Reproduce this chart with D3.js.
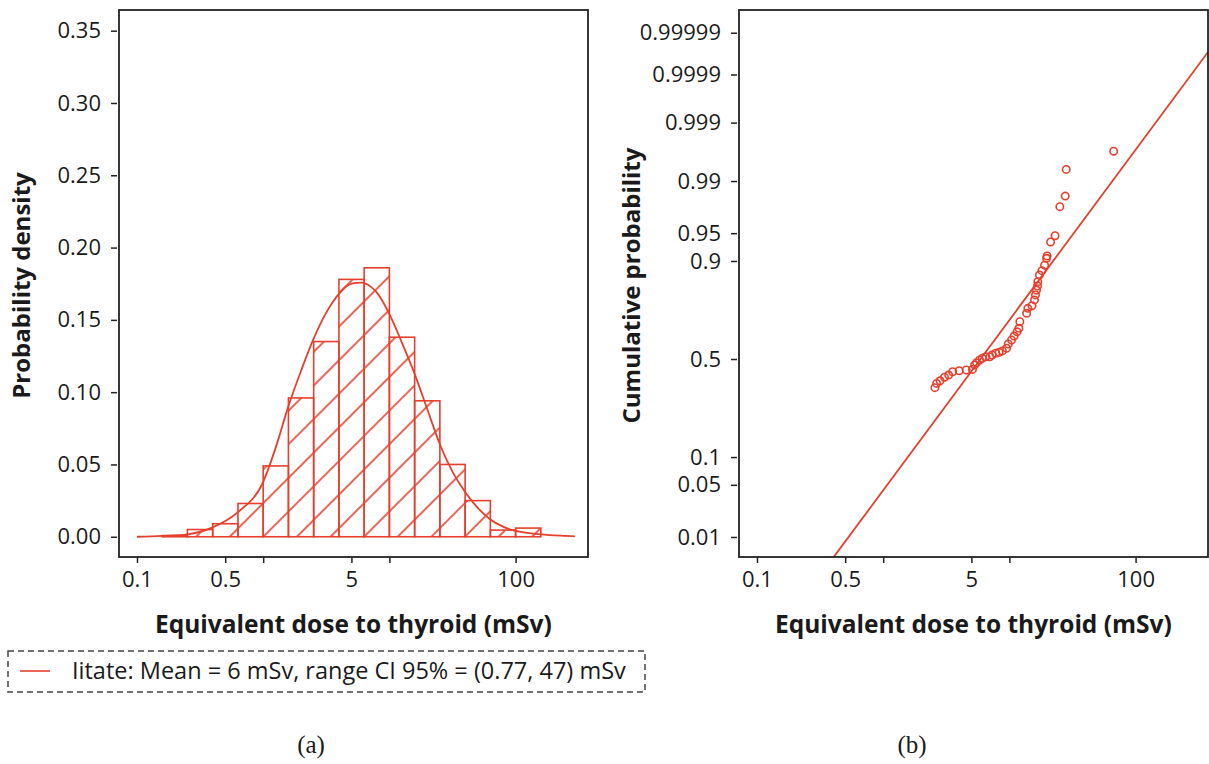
<!DOCTYPE html>
<meta charset="utf-8">
<style>
  body { margin: 0; background: white; }
  text { font-family: "Open Sans", sans-serif; fill: #1a1a1a; }
  .tick text { font-size: 22px; }
  .tick line { stroke: #222; stroke-width: 1.5; }
</style>
<body>
<svg id="chart" width="1209" height="764"></svg>

<script src="https://d3js.org/d3.v7.min.js"></script>
<script>
// ---- panel (a): histogram of log-binned doses (bin edges in mSv) ----
const binEdges = [0.158, 0.251, 0.398, 0.631, 1, 1.585, 2.512, 3.981, 6.31, 10, 15.85, 25.12, 39.81, 63.1, 100, 158.5];
const binDensity = [0.0008, 0.005, 0.009, 0.023, 0.049, 0.096, 0.135, 0.178, 0.186, 0.138, 0.094, 0.050, 0.025, 0.0046, 0.006];

// fitted density curve
const curveDose = [0.1, 0.158, 0.251, 0.398, 0.631, 1, 1.26, 1.58, 2.0, 2.51, 3.16, 3.98, 5.01, 6.0, 7.1, 7.94, 10, 12.6, 15.8, 20, 25.1, 31.6, 39.8, 50.1, 63.1, 79.4, 100, 158, 251, 295];
const curveDensity = [0, 0.0006, 0.0017, 0.0065, 0.017, 0.038, 0.062, 0.090, 0.115, 0.137, 0.155, 0.168, 0.175, 0.1757, 0.173, 0.169, 0.154, 0.134, 0.113, 0.088, 0.064, 0.045, 0.031, 0.020, 0.012, 0.007, 0.004, 0.0017, 0.0006, 0.0003];

// ---- panel (b): empirical cumulative probability points ----
const pointDose = [2.57, 2.65, 2.82, 3.06, 3.3, 3.55, 4.0, 4.55, 5.1, 5.3, 5.5, 5.8, 6.1, 6.5, 7.0, 7.3, 7.8, 8.3, 8.8, 9.5,
  9.8, 10.4, 10.9, 11.5, 11.9, 12.1, 13.7, 14.0, 15.1, 15.8, 16.1, 16.4, 16.7, 16.8, 17.3, 18.1, 19.0, 19.7, 19.9, 21.2,
  23.0, 25.1, 27.7, 28.2, 67.0];
const pointProb = [0.354, 0.375, 0.388, 0.406, 0.417, 0.434, 0.439, 0.443, 0.446, 0.469, 0.481, 0.495, 0.504, 0.512, 0.512, 0.521, 0.530, 0.535, 0.542, 0.556,
  0.578, 0.598, 0.618, 0.639, 0.656, 0.687, 0.725, 0.746, 0.757, 0.780, 0.799, 0.816, 0.830, 0.844, 0.864, 0.876, 0.890, 0.906, 0.911, 0.937,
  0.9465, 0.9768, 0.9834, 0.9934, 0.9967];
// lognormal fit line (end points)
const fitDose = [0.405, 375];
const fitProb = [0.0048, 0.99997];

// ---- axes ----
const doseTicks = [0.1, 0.5, 1, 5, 10, 100];
const doseTickLabels = ["0.1", "0.5", "", "5", "", "100"];
const densityTicks = [0, 0.05, 0.10, 0.15, 0.20, 0.25, 0.30, 0.35];
const probTicks = [0.01, 0.05, 0.1, 0.5, 0.9, 0.95, 0.99, 0.999, 0.9999, 0.99999];
const probTickLabels = ["0.01", "0.05", "0.1", "0.5", "0.9", "0.95", "0.99", "0.999", "0.9999", "0.99999"];

const legendText = "Iitate: Mean = 6 mSv, range CI 95% = (0.77, 47) mSv";
const xTitle = "Equivalent dose to thyroid (mSv)";

const red = "#e5402e";
const frameW = 469, frameH = 547;
const svg = d3.select("#chart");

// inverse standard normal CDF (Acklam), used for the probability axis
function probit(p) {
  const a = [-3.969683028665376e+01, 2.209460984245205e+02, -2.759285104469687e+02, 1.383577518672690e+02, -3.066479806614716e+01, 2.506628277459239e+00];
  const b = [-5.447609879822406e+01, 1.615858368580409e+02, -1.556989798598866e+02, 6.680131188771972e+01, -1.328068155288572e+01];
  const c = [-7.784894002430293e-03, -3.223964580411365e-01, -2.400758277161838e+00, -2.549732539343734e+00, 4.374664141464968e+00, 2.938163982698783e+00];
  const d = [7.784695709041462e-03, 3.224671290700398e-01, 2.445134137142996e+00, 3.754408661907416e+00];
  const pl = 0.02425;
  let q, r;
  if (p < pl) {
    q = Math.sqrt(-2 * Math.log(p));
    return (((((c[0]*q+c[1])*q+c[2])*q+c[3])*q+c[4])*q+c[5]) / ((((d[0]*q+d[1])*q+d[2])*q+d[3])*q+1);
  }
  if (p > 1 - pl) {
    q = Math.sqrt(-2 * Math.log(1 - p));
    return -(((((c[0]*q+c[1])*q+c[2])*q+c[3])*q+c[4])*q+c[5]) / ((((d[0]*q+d[1])*q+d[2])*q+d[3])*q+1);
  }
  q = p - 0.5; r = q * q;
  return (((((a[0]*r+a[1])*r+a[2])*r+a[3])*r+a[4])*r+a[5])*q / (((((b[0]*r+b[1])*r+b[2])*r+b[3])*r+b[4])*r+1);
}

const x = d3.scaleLog().domain([0.07203, 374.7]).range([0, frameW]);

function drawXAxis(g) {
  g.append("g")
    .attr("transform", `translate(0,${frameH})`)
    .call(d3.axisBottom(x).tickValues(doseTicks)
      .tickFormat((d, i) => doseTickLabels[i]).tickSize(6).tickPadding(8).tickSizeOuter(0))
    .call(a => a.select(".domain").remove());
  g.append("text")
    .attr("x", x(5) + 2).attr("y", frameH + 76)
    .attr("text-anchor", "middle")
    .style("font-size", "24.5px").style("font-weight", "bold")
    .text(xTitle);
}

function drawFrame(g) {
  g.append("rect")
    .attr("width", frameW).attr("height", frameH)
    .attr("fill", "none").attr("stroke", "#222").attr("stroke-width", 1.8);
}

// ================= panel (a) =================
const ga = svg.append("g").attr("transform", "translate(119,10)");
const ya = d3.scaleLinear().domain([-0.014, 0.3643]).range([frameH, 0]);

// 45 degree hatch, phase matched to the picture
const hatchW = 23.76;
const hatchPhase = 32.6;
svg.append("defs").append("pattern")
  .attr("id", "hatch")
  .attr("patternUnits", "userSpaceOnUse")
  .attr("width", hatchW).attr("height", hatchW)
  .attr("patternTransform", `rotate(45) translate(${hatchPhase / Math.SQRT2 - hatchW / 2},0)`)
  .append("line")
  .attr("x1", hatchW / 2).attr("y1", -1).attr("x2", hatchW / 2).attr("y2", hatchW + 1)
  .attr("stroke", red).attr("stroke-width", 1.6);

const bins = binDensity.map((v, i) => ({ x0: binEdges[i], x1: binEdges[i + 1], v: v }));
ga.selectAll(".bar").data(bins).join("rect")
  .attr("class", "bar")
  .attr("x", d => x(d.x0))
  .attr("width", d => x(d.x1) - x(d.x0))
  .attr("y", d => ya(d.v))
  .attr("height", d => ya(0) - ya(d.v))
  .attr("fill", "url(#hatch)")
  .attr("stroke", red).attr("stroke-width", 1.6);

const curve = curveDose.map((d, i) => [d, curveDensity[i]]);
ga.append("path")
  .datum(curve)
  .attr("fill", "none").attr("stroke", red).attr("stroke-width", 1.8)
  .attr("d", d3.line().x(d => x(d[0])).y(d => ya(d[1])).curve(d3.curveMonotoneX));

drawFrame(ga);
ga.append("g")
  .attr("transform", "translate(-2,0)")
  .call(d3.axisLeft(ya).tickValues(densityTicks).tickFormat(d3.format(".2f"))
    .tickSize(6).tickPadding(10).tickSizeOuter(0))
  .call(a => a.select(".domain").remove());
drawXAxis(ga);
ga.append("text")
  .attr("transform", `translate(-89,${frameH / 2 + 2}) rotate(-90)`)
  .attr("text-anchor", "middle")
  .style("font-size", "24px").style("font-weight", "bold")
  .text("Probability density");

// ================= panel (b) =================
const gb = svg.append("g").attr("transform", "translate(739,10)");
const zScale = d3.scaleLinear().domain([-2.588, 4.562]).range([frameH, 0]);
const yb = p => zScale(probit(p));

gb.append("clipPath").attr("id", "clipb")
  .append("rect").attr("width", frameW).attr("height", frameH);

gb.append("path")
  .datum(fitDose.map((d, i) => [d, fitProb[i]]))
  .attr("clip-path", "url(#clipb)")
  .attr("fill", "none").attr("stroke", red).attr("stroke-width", 1.8)
  .attr("d", d3.line().x(d => x(d[0])).y(d => yb(d[1])));

gb.selectAll(".pt").data(pointDose.map((d, i) => [d, pointProb[i]])).join("circle")
  .attr("class", "pt")
  .attr("cx", d => x(d[0])).attr("cy", d => yb(d[1]))
  .attr("r", 3.7)
  .attr("fill", "none").attr("stroke", red).attr("stroke-width", 1.6);

drawFrame(gb);
gb.append("g")
  .attr("transform", "translate(-2,0)")
  .call(d3.axisLeft(zScale).tickValues(probTicks.map(probit))
    .tickFormat((d, i) => probTickLabels[i]).tickSize(6).tickPadding(10).tickSizeOuter(0))
  .call(a => a.select(".domain").remove());
drawXAxis(gb);
gb.append("text")
  .attr("transform", `translate(-99,${frameH / 2 + 2}) rotate(-90)`)
  .attr("text-anchor", "middle")
  .style("font-size", "24px").style("font-weight", "bold")
  .text("Cumulative probability");

// ================= legend and captions =================
const lg = svg.append("g").attr("transform", "translate(8,651)");
lg.append("rect")
  .attr("width", 637).attr("height", 41)
  .attr("fill", "white").attr("stroke", "#444").attr("stroke-width", 1.5)
  .attr("stroke-dasharray", "6,4");
lg.append("line")
  .attr("x1", 12).attr("x2", 42).attr("y1", 20).attr("y2", 20)
  .attr("stroke", red).attr("stroke-width", 1.6);
lg.append("text")
  .attr("x", 64).attr("y", 28)
  .style("font-size", "23.5px")
  .text(legendText);

svg.selectAll(".caption").data(["(a)", "(b)"]).join("text")
  .attr("class", "caption")
  .attr("x", (d, i) => i ? 912 : 311).attr("y", 753)
  .attr("text-anchor", "middle")
  .style("font-family", "'Liberation Serif', serif")
  .style("font-size", "25px")
  .text(d => d);
</script>
</body>
